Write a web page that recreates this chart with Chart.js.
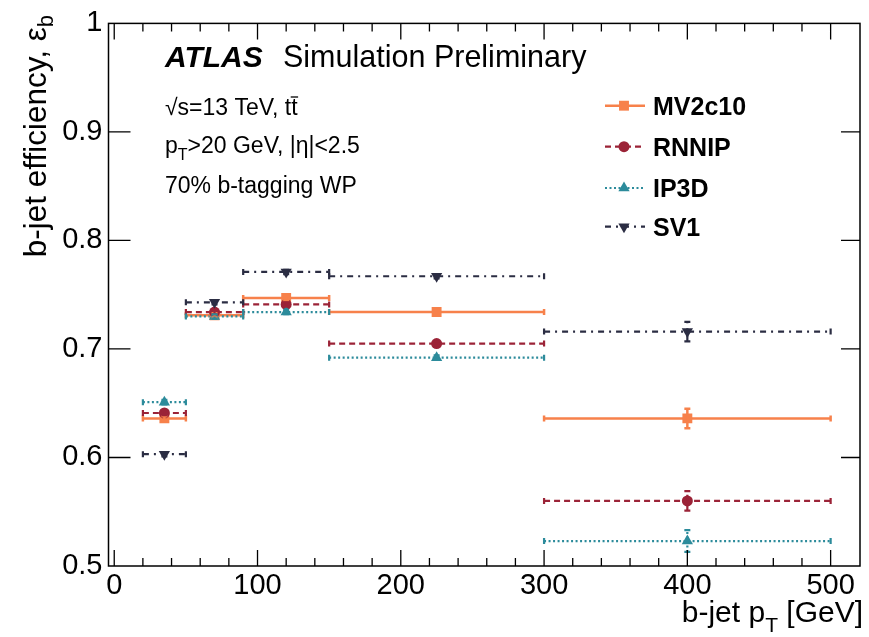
<!DOCTYPE html>
<html><head><meta charset="utf-8">
<script src="https://cdn.jsdelivr.net/npm/chart.js@4"></script>
<style>html,body{margin:0;padding:0;background:#fff}canvas{display:block}</style>
</head><body>
<canvas id="c" width="869" height="637"></canvas>
<script>
// ---- data ----
const binLow    = [20, 50, 90, 150, 300];
const binHigh   = [50, 90, 150, 300, 500];
const binCenter = [35, 70, 120, 225, 400];
const seriesNames = ['MV2c10', 'RNNIP', 'IP3D', 'SV1'];
const mv2c10 = [0.636, 0.731, 0.747, 0.734, 0.636];
const rnnip  = [0.641, 0.734, 0.741, 0.705, 0.560];
const ip3d   = [0.651, 0.730, 0.734, 0.692, 0.523];
const sv1    = [0.603, 0.743, 0.771, 0.767, 0.716];
const mv2c10Err = [0.002, 0.002, 0.002, 0.002, 0.009];
const rnnipErr  = [0.002, 0.002, 0.002, 0.002, 0.009];
const ip3dErr   = [0.002, 0.002, 0.002, 0.002, 0.010];
const sv1Err    = [0.002, 0.002, 0.002, 0.002, 0.009];
const xTicks = [0, 100, 200, 300, 400, 500];
const yTicks = [0.5, 0.6, 0.7, 0.8, 0.9, 1];

// ---- styles ----
const FONT = '"Liberation Sans", Arial, Helvetica, sans-serif';
const styles = [
  {color: '#f7814b', dash: [], width: 2.5, point: 'rect', radius: 7, rot: 0},
  {color: '#9b2337', dash: [6, 4], width: 2.2, point: 'circle', radius: 5.5, rot: 0},
  {color: '#2c8b9b', dash: [2, 2.5], width: 2.2, point: 'triangle', radius: 6.5, rot: 0},
  {color: '#2b2d43', dash: [6, 5, 2, 5], width: 2.2, point: 'triangle', radius: 6.5, rot: 180}
];
const values = [mv2c10, rnnip, ip3d, sv1];
const errors = [mv2c10Err, rnnipErr, ip3dErr, sv1Err];

const datasets = [];
values.forEach((vals, s) => {
  const st = styles[s];
  const seg = [];
  vals.forEach((v, i) => {
    seg.push({x: binLow[i], y: v}, {x: binHigh[i], y: v}, {x: binHigh[i], y: null});
  });
  datasets.push({
    type: 'line', label: seriesNames[s] + ' bins', data: seg,
    borderColor: st.color, borderWidth: st.width, borderDash: st.dash,
    pointRadius: 0, spanGaps: false, fill: false, tension: 0, order: 10 - s
  });
});
values.forEach((vals, s) => {
  const st = styles[s];
  datasets.push({
    type: 'scatter', label: seriesNames[s],
    data: vals.map((v, i) => ({x: binCenter[i], y: v})),
    backgroundColor: st.color, borderColor: st.color, borderWidth: 0,
    pointStyle: st.point, pointRadius: st.radius, pointRotation: st.rot,
    showLine: false, order: 5 - s
  });
});

function drawMarker(ctx, st, x, y) {
  Chart.helpers.drawPoint(ctx, {pointStyle: st.point, radius: st.radius, rotation: st.rot, borderWidth: 0}, x, y);
}

const decor = {
  id: 'decor',
  afterDatasetsDraw(chart) {
    const ctx = chart.ctx, xs = chart.scales.x, ys = chart.scales.y;
    ctx.save();
    values.forEach((vals, s) => {
      const st = styles[s];
      ctx.strokeStyle = st.color; ctx.lineWidth = st.width; ctx.setLineDash(st.dash);
      vals.forEach((v, i) => {
        const xc = xs.getPixelForValue(binCenter[i]);
        const y0 = ys.getPixelForValue(v);
        const yl = ys.getPixelForValue(v - errors[s][i]);
        const yh = ys.getPixelForValue(v + errors[s][i]);
        ctx.beginPath(); ctx.moveTo(xc, yl); ctx.lineTo(xc, yh); ctx.stroke();
        ctx.setLineDash([]);
        ctx.beginPath();
        ctx.moveTo(xc - 3, yl); ctx.lineTo(xc + 3, yl);
        ctx.moveTo(xc - 3, yh); ctx.lineTo(xc + 3, yh);
        const xl = xs.getPixelForValue(binLow[i]), xh = xs.getPixelForValue(binHigh[i]);
        ctx.moveTo(xl, y0 - 3); ctx.lineTo(xl, y0 + 3);
        ctx.moveTo(xh, y0 - 3); ctx.lineTo(xh, y0 + 3);
        ctx.stroke();
        ctx.setLineDash(st.dash);
      });
    });
    ctx.restore();
  },
  afterDraw(chart) {
    const ctx = chart.ctx, a = chart.chartArea, xs = chart.scales.x, ys = chart.scales.y;
    ctx.save();
    // frame
    ctx.strokeStyle = '#000'; ctx.lineWidth = 1.5; ctx.setLineDash([]);
    ctx.strokeRect(a.left, a.top, a.right - a.left, a.bottom - a.top);
    // x ticks (inside, top and bottom)
    ctx.lineWidth = 1.3;
    ctx.beginPath();
    for (let v = 0; v <= 520; v += 20) {
      const px = xs.getPixelForValue(v);
      if (px <= a.left + 1 || px >= a.right - 1) continue;
      const len = (v % 100 === 0) ? 16 : 8;
      ctx.moveTo(px, a.bottom); ctx.lineTo(px, a.bottom - len);
      ctx.moveTo(px, a.top); ctx.lineTo(px, a.top + len);
    }
    yTicks.forEach(v => {
      const py = ys.getPixelForValue(v);
      if (py <= a.top + 1 || py >= a.bottom - 1) return;
      ctx.moveTo(a.left, py); ctx.lineTo(a.left + 22, py);
      ctx.moveTo(a.right, py); ctx.lineTo(a.right - 19, py);
    });
    ctx.stroke();

    ctx.fillStyle = '#000'; ctx.textBaseline = 'alphabetic'; ctx.textAlign = 'left';
    // ATLAS label
    ctx.font = 'italic bold 30px ' + FONT;
    ctx.fillText('ATLAS', 165, 67);
    ctx.font = '30.5px ' + FONT;
    ctx.fillText('Simulation Preliminary', 283, 67);
    // info lines
    ctx.font = '23px ' + FONT;
    let t1 = '\u221As=13 TeV, t';
    ctx.fillText(t1, 165, 115);
    let w1 = ctx.measureText(t1).width;
    ctx.fillText('t', 165 + w1, 115);
    const tw = ctx.measureText('t').width;
    ctx.lineWidth = 1.3; ctx.beginPath();
    ctx.moveTo(165 + w1 - 0.5, 97); ctx.lineTo(165 + w1 + tw + 0.5, 97); ctx.stroke();
    // pT line
    ctx.fillText('p', 165, 153);
    let wp = ctx.measureText('p').width;
    ctx.font = '16px ' + FONT;
    ctx.fillText('T', 165 + wp, 160);
    let wt = ctx.measureText('T').width;
    ctx.font = '23px ' + FONT;
    ctx.fillText('>20 GeV, |\u03B7|<2.5', 165 + wp + wt, 153);
    ctx.fillText('70% b-tagging WP', 165, 193);

    // legend
    const legY = [105.7, 146.7, 188, 226.7];
    styles.forEach((st, s) => {
      const y = legY[s];
      ctx.strokeStyle = st.color; ctx.lineWidth = st.width; ctx.setLineDash(st.dash);
      ctx.beginPath(); ctx.moveTo(605, y); ctx.lineTo(645, y); ctx.stroke();
      ctx.setLineDash([]);
      ctx.fillStyle = st.color; ctx.strokeStyle = st.color;
      drawMarker(ctx, st, 624, y);
      ctx.fillStyle = '#000';
      ctx.font = 'bold 25px ' + FONT;
      ctx.fillText(seriesNames[s], 653, y + 9);
    });

    // y title (rotated)
    ctx.fillStyle = '#000';
    ctx.font = '31.5px ' + FONT;
    const yt = 'b-jet efficiency, \u03B5';
    const ytw = ctx.measureText(yt).width;
    ctx.font = '22px ' + FONT;
    const ysw = ctx.measureText('b').width;
    const ytotal = ytw + ysw;
    ctx.save();
    ctx.translate(46, 15 + ytotal);
    ctx.rotate(-Math.PI / 2);
    ctx.font = '31.5px ' + FONT;
    ctx.fillText(yt, 0, 0);
    ctx.font = '22px ' + FONT;
    ctx.fillText('b', ytw, 7);
    ctx.restore();

    // x title
    ctx.font = '30px ' + FONT;
    const xa = 'b-jet p', xb = ' [GeV]';
    const wa = ctx.measureText(xa).width, wb = ctx.measureText(xb).width;
    ctx.font = '21px ' + FONT;
    const wT = ctx.measureText('T').width;
    const x0 = 863 - (wa + wT + wb);
    ctx.font = '30px ' + FONT;
    ctx.fillText(xa, x0, 622);
    ctx.font = '21px ' + FONT;
    ctx.fillText('T', x0 + wa, 632);
    ctx.font = '30px ' + FONT;
    ctx.fillText(xb, x0 + wa + wT, 622);
    ctx.restore();
  }
};

new Chart(document.getElementById('c'), {
  data: {datasets},
  options: {
    responsive: false, animation: false, devicePixelRatio: 1,
    layout: {padding: {left: 0, right: 9, top: 23, bottom: 0}},
    plugins: {legend: {display: false}, tooltip: {enabled: false}},
    scales: {
      x: {
        type: 'linear', min: -4, max: 520.5,
        grid: {display: false, drawTicks: false}, border: {display: false},
        afterFit: s => { s.height = 71; },
        afterBuildTicks: s => { s.ticks = xTicks.map(v => ({value: v})); },
        ticks: {font: {family: FONT, size: 29}, color: '#000', padding: 3,
                autoSkip: false, maxRotation: 0, includeBounds: false,
                callback: v => String(v)}
      },
      y: {
        type: 'linear', min: 0.5, max: 1,
        grid: {display: false, drawTicks: false}, border: {display: false},
        afterFit: s => { s.width = 108.5; },
        afterBuildTicks: s => { s.ticks = yTicks.map(v => ({value: v})); },
        ticks: {font: {family: FONT, size: 29}, color: '#000', padding: 6,
                callback: v => (v === 1 ? '1' : v.toFixed(1))}
      }
    }
  },
  plugins: [decor]
});
</script>
</body></html>
